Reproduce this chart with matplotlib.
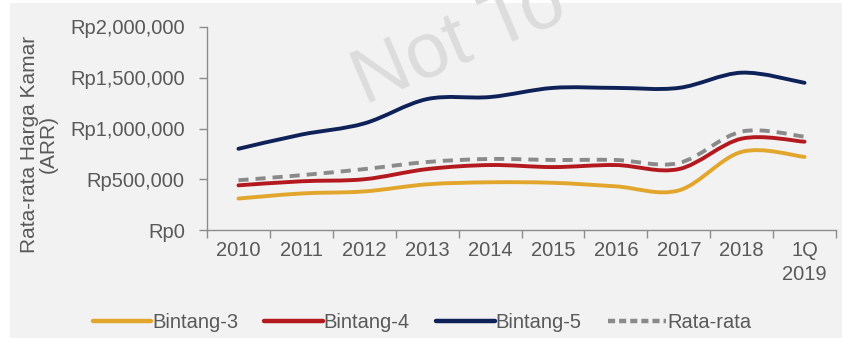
import matplotlib
matplotlib.use("Agg")
import matplotlib.pyplot as plt
from matplotlib.path import Path
from matplotlib.patches import PathPatch, Rectangle
from matplotlib.lines import Line2D
from matplotlib.ticker import FuncFormatter, FixedLocator

plt.rcParams['font.family'] = ['Liberation Sans', 'DejaVu Sans']

# Average room rate (ARR) by hotel class
periods = ["2010", "2011", "2012", "2013", "2014", "2015", "2016", "2017", "2018", "1Q\n2019"]
bintang_3 = [310000, 360000, 380000, 450000, 470000, 465000, 430000, 390000, 770000, 720000]
bintang_4 = [440000, 480000, 500000, 600000, 640000, 620000, 640000, 600000, 900000, 870000]
bintang_5 = [800000, 940000, 1050000, 1290000, 1310000, 1400000, 1400000, 1400000, 1550000, 1450000]
rata_rata = [490000, 540000, 600000, 670000, 700000, 690000, 690000, 660000, 970000, 920000]

series = [
    ("Bintang-3", bintang_3, "#E2A62C", "-"),
    ("Bintang-4", bintang_4, "#B3191E", "-"),
    ("Bintang-5", bintang_5, "#0E2158", "-"),
    ("Rata-rata", rata_rata, "#8A8A8A", "--"),
]

TEXT = "#595959"
AXIS = "#8C8C8C"
FS = 14.5


def smooth_path(xs, ys):
    """Bezier path through the points (Catmull-Rom style smoothing)."""
    n = len(xs)
    pts = list(zip(xs, ys))
    verts = [pts[0]]
    codes = [Path.MOVETO]
    for i in range(n - 1):
        p0 = pts[i - 1] if i > 0 else pts[i]
        p1 = pts[i]
        p2 = pts[i + 1]
        p3 = pts[i + 2] if i + 2 < n else pts[i + 1]
        c1 = (p1[0] + (p2[0] - p0[0]) / 6.0, p1[1] + (p2[1] - p0[1]) / 6.0)
        c2 = (p2[0] - (p3[0] - p1[0]) / 6.0, p2[1] - (p3[1] - p1[1]) / 6.0)
        verts += [c1, c2, p2]
        codes += [Path.CURVE4] * 3
    return Path(verts, codes)


fig = plt.figure(figsize=(8.42, 3.47), dpi=100, facecolor="white")

# light grey panel behind the chart
fig.patches.append(Rectangle((10 / 842, 1 - 338 / 347), 832 / 842, 335 / 347,
                             transform=fig.transFigure, facecolor="#F2F2F2",
                             edgecolor="none", zorder=-3))

# watermark
fig.text(342 / 842, 1 - 104 / 347, "Not To", rotation=23, fontsize=56,
         color="#DCDCDC", ha="left", va="baseline", zorder=-2)

ax = fig.add_axes([207 / 842, 1 - 230 / 347, (836 - 207) / 842, (230 - 27) / 347])
ax.set_facecolor("none")
ax.set_zorder(0)

x = list(range(len(periods)))
handles = []
for name, vals, color, ls in series:
    patch = PathPatch(smooth_path(x, vals), facecolor="none", edgecolor=color,
                      lw=2.8, linestyle=ls, capstyle="round", joinstyle="round")
    if ls == "--":
        patch.set_linestyle((0, (2.6, 1.8)))
        patch.set_capstyle("butt")
    ax.add_patch(patch)
    h = Line2D([], [], color=color, lw=3.2,
               linestyle=(0, (1.6, 0.9)) if ls == "--" else "-",
               solid_capstyle="round", dash_capstyle="butt")
    handles.append(h)

ax.set_xlim(-0.5, len(periods) - 0.5)
ax.set_ylim(0, 2000000)

# category boundaries carry the tick marks, category centres carry the labels
ax.xaxis.set_major_locator(FixedLocator([i - 0.5 for i in range(len(periods) + 1)]))
ax.xaxis.set_minor_locator(FixedLocator(x))
ax.set_xticklabels([], minor=False)
ax.set_xticklabels(periods, minor=True, fontsize=FS, color=TEXT, linespacing=1.3)
ax.tick_params(axis="x", which="major", direction="out", length=6, width=1, color=AXIS)
ax.tick_params(axis="x", which="minor", length=0, pad=8)

ax.set_yticks([0, 500000, 1000000, 1500000, 2000000])
ax.yaxis.set_major_formatter(FuncFormatter(lambda v, p: "Rp{:,.0f}".format(v)))
ax.tick_params(axis="y", direction="out", length=6, width=1, color=AXIS,
               labelsize=FS, labelcolor=TEXT, pad=10)

for side in ("top", "right"):
    ax.spines[side].set_visible(False)
for side in ("left", "bottom"):
    ax.spines[side].set_color(AXIS)
    ax.spines[side].set_linewidth(1)

fig.text(39 / 842, 1 - 144 / 347, "Rata-rata Harga Kamar\n(ARR)", rotation=90,
         ha="center", va="center", fontsize=15, color=TEXT, linespacing=1.0,
         multialignment="center")

fig.legend(handles, [s[0] for s in series], loc="center",
           bbox_to_anchor=(422 / 842, 1 - 323 / 347), ncol=4, frameon=False,
           fontsize=FS, labelcolor=TEXT, handlelength=2.9, handletextpad=0.05,
           columnspacing=1.3, borderaxespad=0)

fig.savefig("out.png", dpi=100, facecolor=fig.get_facecolor())
